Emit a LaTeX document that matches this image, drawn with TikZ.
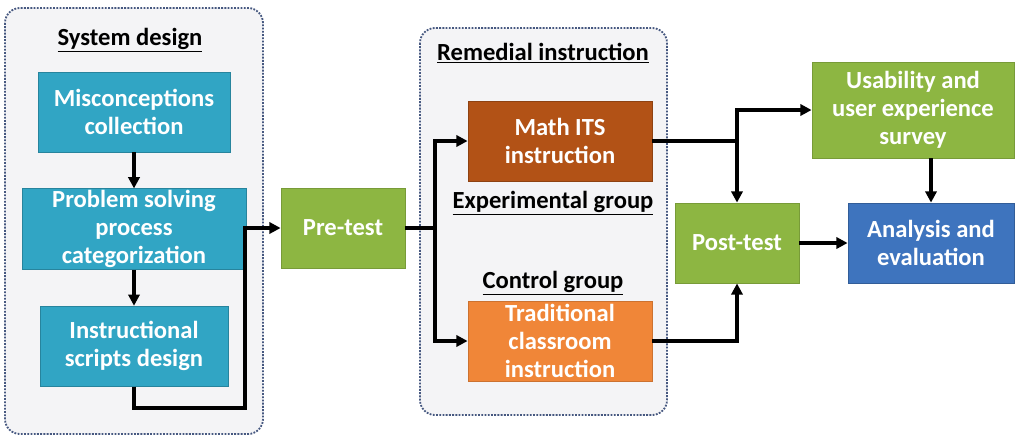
\documentclass[tikz,border=0pt]{standalone}
\usepackage{fontspec}
\setmainfont{Carlito}
\usepackage{xcolor}
\usepackage{tikz}
\usetikzlibrary{shapes,arrows.meta,positioning,fit}

\definecolor{sysblue}{RGB}{49,165,196}
\definecolor{itsbrown}{RGB}{178,82,22}
\definecolor{tradorange}{RGB}{240,134,56}
\definecolor{testgreen}{RGB}{141,182,66}
\definecolor{evalblue}{RGB}{62,116,190}
\definecolor{frameblue}{RGB}{70,88,128}
\definecolor{panelgray}{RGB}{244,244,246}

\begin{document}
\begin{tikzpicture}[
    x=0.25mm, y=-0.25mm,
    node distance=9mm,
    box/.style={rectangle, draw, line width=0.6pt, text=white, minimum height=20mm, align=center, inner sep=1pt, font=\fontsize{17.5}{20}\selectfont\bfseries},
    design/.style={box, fill=sysblue, draw=sysblue!80!black},
    its/.style={box, fill=itsbrown, draw=itsbrown!80!black},
    trad/.style={box, fill=tradorange, draw=tradorange!85!black},
    test/.style={box, fill=testgreen, draw=testgreen!85!black},
    result/.style={box, fill=evalblue, draw=evalblue!80!black},
    title/.style={font=\fontsize{17.5}{20}\selectfont\bfseries, inner sep=1pt},
    group/.style={draw=frameblue, densely dotted, line width=1.3pt, rounded corners=3.75mm, fill=panelgray},
    arrow/.style={-{Triangle[length=2.8mm,width=2.8mm]}, line width=2.6pt}
]
\useasboundingbox (0,0) rectangle (1016,437);
\draw[group] (5,8) rectangle (263,434);
\draw[group] (420,28) rectangle (667,415);

\node[title] (sysdesign) at (130,40) {\underline{System design}};
\node[design, minimum width=48mm] (collect) at (134,112) {Misconceptions\\collection};
\node[design, minimum width=56mm, below=of collect] (categorize) {Problem solving\\process\\categorization};
\node[design, minimum width=47mm, below=of categorize] (scripts) {Instructional\\scripts design};

\node[test, minimum width=31mm] (pretest) at (343,228) {Pre-test};

\node[title] (remedial) at (543,53) {\underline{Remedial instruction}};
\node[its, minimum width=46mm] (mathits) at (560,141) {Math ITS\\instruction};
\node[title] (expgroup) at (553,203) {\underline{Experimental group}};
\node[title] (ctrlgroup) at (553,283) {\underline{Control group}};
\node[trad, minimum width=46mm] (classroom) at (560,341) {Traditional\\classroom\\instruction};

\node[test, minimum width=31mm] (posttest) at (737,243) {Post-test};
\node[test, minimum width=50.5mm, minimum height=24mm] (survey) at (913,110) {Usability and\\user experience\\survey};
\node[result, minimum width=41.5mm] (analysis) at (931,243) {Analysis and\\evaluation};

\coordinate (bend) at (245,408);
\coordinate (split) at (435,228);

\draw[arrow] (collect) -- (categorize);
\draw[arrow] (categorize) -- (scripts);
\draw[arrow] (scripts.south) |- (bend) |- (pretest.west);
\draw[line width=2.6pt] (pretest.east) -- (split);
\draw[arrow] (split) |- (mathits.west);
\draw[arrow] (split) |- (classroom.west);
\draw[arrow] (mathits.east) -| (posttest.north);
\draw[arrow] (posttest.north |- mathits.east) |- (survey.west);
\draw[arrow] (classroom.east) -| (posttest.south);
\draw[arrow] (posttest) -- (analysis);
\draw[arrow] (analysis.north |- survey.south) -- (analysis.north);
\end{tikzpicture}
\end{document}
